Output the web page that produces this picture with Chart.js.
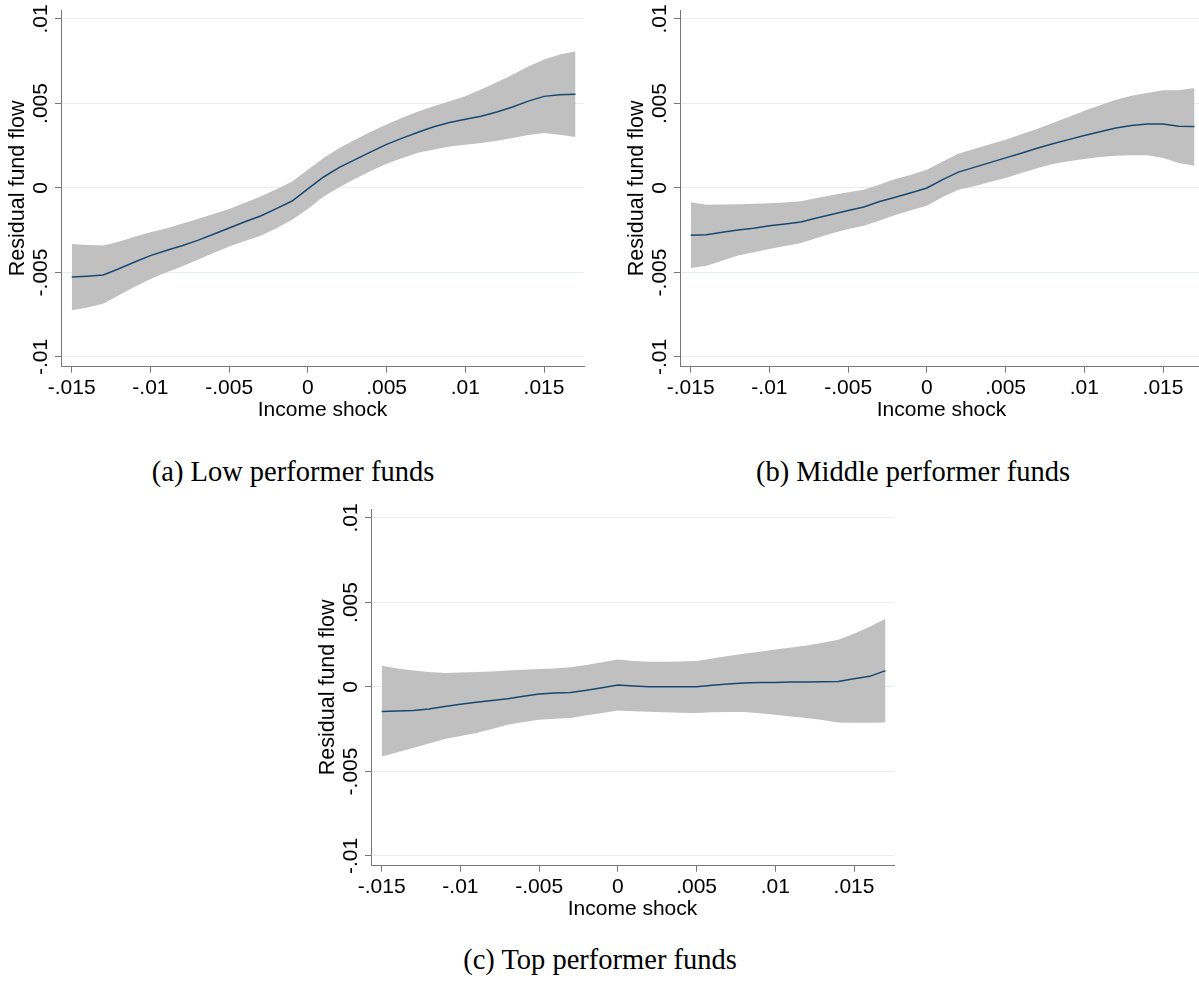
<!DOCTYPE html>
<html>
<head>
<meta charset="utf-8">
<script src="https://cdn.jsdelivr.net/npm/chart.js@4/dist/chart.umd.min.js"></script>
<style>
  html, body { margin: 0; padding: 0; background: #ffffff; }
  body { width: 1199px; height: 989px; overflow: hidden; position: relative; }
  .panel { position: absolute; }
  .cap { position: absolute; font-family: "Liberation Serif", "Times New Roman", serif; font-size: 28.5px; color: #000; white-space: nowrap; transform: translateX(-50%); line-height: 1; }
</style>
</head>
<body>
<div class="panel" style="left:0px;top:0px;"><canvas id="cA" width="600" height="430"></canvas></div>
<div class="panel" style="left:619px;top:0px;"><canvas id="cB" width="600" height="430"></canvas></div>
<div class="panel" style="left:310px;top:499px;"><canvas id="cC" width="600" height="430"></canvas></div>
<div class="cap" style="left:293px;top:458px;">(a) Low performer funds</div>
<div class="cap" style="left:913px;top:458px;">(b) Middle performer funds</div>
<div class="cap" style="left:600px;top:946px;">(c) Top performer funds</div>
<script>
// ---- data ----
const incomeShock = [-0.015,-0.014,-0.013,-0.012,-0.011,-0.010,-0.009,-0.008,-0.007,-0.006,-0.005,-0.004,-0.003,-0.002,-0.001,0.000,0.001,0.002,0.003,0.004,0.005,0.006,0.007,0.008,0.009,0.010,0.011,0.012,0.013,0.014,0.015,0.016,0.017];

const lowMean  = [-0.00527,-0.00522,-0.00515,-0.00478,-0.00438,-0.00400,-0.00370,-0.00342,-0.00310,-0.00274,-0.00237,-0.00200,-0.00166,-0.00122,-0.00077,-0.00005,0.00065,0.00122,0.00168,0.00214,0.00258,0.00295,0.00330,0.00362,0.00387,0.00407,0.00424,0.00450,0.00479,0.00514,0.00542,0.00552,0.00554];
const lowUpper = [-0.00331,-0.00338,-0.00341,-0.00318,-0.00288,-0.00262,-0.00240,-0.00211,-0.00184,-0.00154,-0.00124,-0.00088,-0.00050,-0.00008,0.00039,0.00108,0.00178,0.00237,0.00285,0.00332,0.00375,0.00415,0.00452,0.00483,0.00513,0.00542,0.00582,0.00625,0.00670,0.00718,0.00760,0.00789,0.00809];
const lowLower = [-0.00724,-0.00707,-0.00685,-0.00635,-0.00585,-0.00539,-0.00500,-0.00464,-0.00424,-0.00384,-0.00346,-0.00314,-0.00282,-0.00238,-0.00188,-0.00125,-0.00050,0.00005,0.00055,0.00100,0.00144,0.00178,0.00208,0.00227,0.00245,0.00256,0.00266,0.00280,0.00296,0.00313,0.00325,0.00315,0.00302];

const midMean  = [-0.00280,-0.00276,-0.00262,-0.00249,-0.00238,-0.00223,-0.00213,-0.00201,-0.00178,-0.00155,-0.00133,-0.00112,-0.00080,-0.00055,-0.00028,0.00000,0.00049,0.00094,0.00122,0.00150,0.00178,0.00206,0.00235,0.00262,0.00286,0.00310,0.00333,0.00355,0.00370,0.00379,0.00379,0.00365,0.00363];
const midUpper = [-0.00085,-0.00099,-0.00098,-0.00096,-0.00094,-0.00090,-0.00086,-0.00079,-0.00060,-0.00042,-0.00026,-0.00010,0.00020,0.00053,0.00078,0.00108,0.00157,0.00203,0.00230,0.00258,0.00286,0.00318,0.00349,0.00385,0.00420,0.00457,0.00490,0.00522,0.00545,0.00562,0.00578,0.00578,0.00592];
const midLower = [-0.00473,-0.00460,-0.00430,-0.00400,-0.00380,-0.00361,-0.00344,-0.00325,-0.00296,-0.00268,-0.00243,-0.00223,-0.00192,-0.00160,-0.00132,-0.00105,-0.00053,-0.00010,0.00010,0.00035,0.00059,0.00088,0.00116,0.00142,0.00158,0.00172,0.00183,0.00191,0.00193,0.00193,0.00178,0.00148,0.00132];

const topMean  = [-0.00145,-0.00142,-0.00139,-0.00130,-0.00115,-0.00102,-0.00090,-0.00080,-0.00070,-0.00055,-0.00041,-0.00035,-0.00032,-0.00020,-0.00005,0.00012,0.00006,0.00002,0.00002,0.00002,0.00002,0.00010,0.00018,0.00024,0.00026,0.00027,0.00029,0.00030,0.00031,0.00033,0.00048,0.00063,0.00097];
const topUpper = [0.00126,0.00110,0.00098,0.00088,0.00083,0.00085,0.00088,0.00092,0.00097,0.00102,0.00107,0.00110,0.00116,0.00130,0.00146,0.00162,0.00154,0.00150,0.00150,0.00151,0.00154,0.00168,0.00183,0.00197,0.00209,0.00221,0.00234,0.00246,0.00262,0.00280,0.00315,0.00357,0.00403];
const topLower = [-0.00411,-0.00386,-0.00361,-0.00335,-0.00308,-0.00290,-0.00273,-0.00248,-0.00223,-0.00207,-0.00194,-0.00188,-0.00184,-0.00168,-0.00154,-0.00139,-0.00143,-0.00146,-0.00150,-0.00152,-0.00154,-0.00150,-0.00148,-0.00148,-0.00155,-0.00164,-0.00174,-0.00184,-0.00196,-0.00210,-0.00211,-0.00212,-0.00210];

const xTickValues = [-0.015,-0.01,-0.005,0,0.005,0.01,0.015];
const xTickLabels = ["-.015","-.01","-.005","0",".005",".01",".015"];
const yTickValues = [-0.01,-0.005,0,0.005,0.01];
const yTickLabels = ["-.01","-.005","0",".005",".01"];

const xTitle = "Income shock";
const yTitle = "Residual fund flow";

// ---- styles ----
const SANS = '"Liberation Sans", Arial, Helvetica, sans-serif';
const AXIS_COLOR = '#777777';
const GRID_COLOR = '#e6eef1';
const BAND_COLOR = '#c0c0c0';
const LINE_COLOR = '#1a476f';

function pts(ys) { return incomeShock.map((x, i) => ({ x: x, y: ys[i] })); }

function makeChart(id, mean, upper, lower) {
  const ctx = document.getElementById(id);
  return new Chart(ctx, {
    type: 'line',
    data: {
      datasets: [
        { label: 'lower', data: pts(lower), order: 2, borderColor: 'rgba(0,0,0,0)', borderWidth: 0, pointRadius: 0, fill: false, tension: 0 },
        { label: 'upper', data: pts(upper), order: 1, borderColor: 'rgba(0,0,0,0)', borderWidth: 0, pointRadius: 0, fill: '-1', backgroundColor: BAND_COLOR, tension: 0 },
        { label: 'fit', data: pts(mean), order: 0, borderColor: LINE_COLOR, borderWidth: 1.5, pointRadius: 0, fill: false, tension: 0 }
      ]
    },
    options: {
      responsive: false,
      animation: false,
      devicePixelRatio: 1,
      layout: { padding: { left: 0, top: 10, right: 16, bottom: 0 } },
      plugins: { legend: { display: false }, tooltip: { enabled: false } },
      scales: {
        x: {
          type: 'linear',
          min: -0.01568,
          max: 0.01754,
          afterBuildTicks: s => { s.ticks = xTickValues.map(v => ({ value: v })); },
          afterFit: s => { s.height = 63.3; },
          ticks: {
            autoSkip: false, maxRotation: 0, minRotation: 0, padding: 3,
            color: '#000', font: { family: SANS, size: 21 },
            callback: (v, i) => xTickLabels[i]
          },
          grid: { drawOnChartArea: false, tickLength: 6, tickColor: AXIS_COLOR, tickWidth: 1 },
          border: { display: true, color: AXIS_COLOR, width: 1 },
          title: { display: true, text: xTitle, color: '#000', font: { family: SANS, size: 21 }, padding: { top: 0, bottom: 7 } }
        },
        y: {
          type: 'linear',
          min: -0.010574,
          max: 0.01053,
          afterBuildTicks: s => { s.ticks = yTickValues.map(v => ({ value: v })); },
          afterFit: s => { s.width = 61; },
          ticks: {
            autoSkip: false, minRotation: 90, maxRotation: 90, crossAlign: 'center', padding: -10,
            color: '#000', font: { family: SANS, size: 21 },
            callback: (v, i) => yTickLabels[i]
          },
          grid: { color: GRID_COLOR, lineWidth: 1, tickLength: 6, tickColor: AXIS_COLOR, tickWidth: 1 },
          border: { display: true, color: AXIS_COLOR, width: 1 },
          title: { display: true, text: yTitle, color: '#000', font: { family: SANS, size: 21.5 }, padding: { top: 5, bottom: 0 } }
        }
      }
    }
  });
}

makeChart('cA', lowMean, lowUpper, lowLower);
makeChart('cB', midMean, midUpper, midLower);
makeChart('cC', topMean, topUpper, topLower);
</script>
</body>
</html>
